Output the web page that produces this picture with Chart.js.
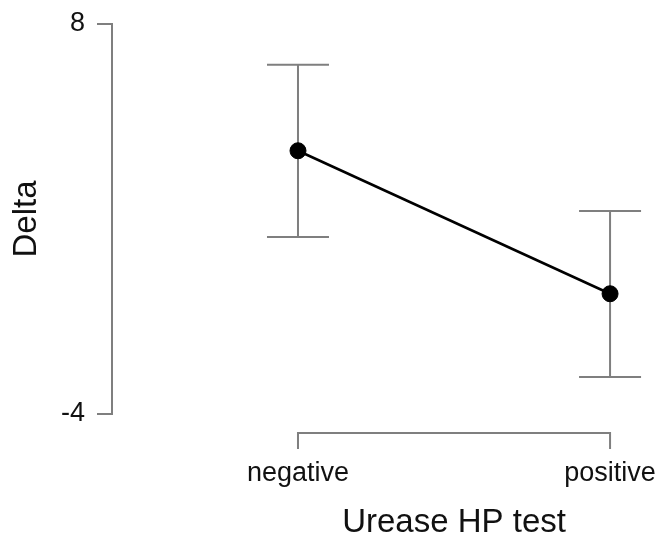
<!DOCTYPE html>
<html>
<head>
<meta charset="utf-8">
<script src="https://cdn.jsdelivr.net/npm/chart.js@4"></script>
<style>
  html, body { margin: 0; padding: 0; background: #fff; }
  #wrap { width: 659px; height: 539px; }
</style>
</head>
<body>
<div id="wrap"><canvas id="myChart"></canvas></div>
<script>
// Datos
const categories = ['negative', 'positive'];
const means = [4.10, -0.30];
const lower = [1.45, -2.86];
const upper = [6.75, 2.25];
const yTicks = [-4, 8];

const axisColor = '#7f7f7f';
const textColor = '#111';
const fontFamily = "'Liberation Sans', Arial, sans-serif";

// barras de error (gris, con remates)
const errorBars = {
    id: 'errorBars',
    beforeDatasetsDraw(chart) {
        const ctx = chart.ctx;
        const x = chart.scales.x, y = chart.scales.y;
        ctx.save();
        ctx.strokeStyle = axisColor;
        ctx.lineWidth = 2;
        for (let i = 0; i < categories.length; i++) {
            const px = x.getPixelForValue(i);
            const top = y.getPixelForValue(upper[i]);
            const bot = y.getPixelForValue(lower[i]);
            ctx.beginPath();
            ctx.moveTo(px, top); ctx.lineTo(px, bot);
            ctx.moveTo(px - 31, top); ctx.lineTo(px + 31, top);
            ctx.moveTo(px - 31, bot); ctx.lineTo(px + 31, bot);
            ctx.stroke();
        }
        ctx.restore();
    }
};

// eje x estilo "bracket" entre las categorias
const xBracket = {
    id: 'xBracket',
    afterDraw(chart) {
        const ctx = chart.ctx;
        const x = chart.scales.x;
        const x0 = x.getPixelForValue(0);
        const x1 = x.getPixelForValue(categories.length - 1);
        const yLine = chart.chartArea.bottom + 19;
        ctx.save();
        ctx.strokeStyle = axisColor;
        ctx.lineWidth = 2;
        ctx.beginPath();
        ctx.moveTo(x0, yLine + 16);
        ctx.lineTo(x0, yLine);
        ctx.lineTo(x1, yLine);
        ctx.lineTo(x1, yLine + 16);
        ctx.stroke();

        ctx.fillStyle = textColor;
        ctx.textAlign = 'center';
        ctx.textBaseline = 'alphabetic';
        ctx.font = '27px ' + fontFamily;
        categories.forEach((c, i) => {
            ctx.fillText(c, x.getPixelForValue(i), yLine + 48);
        });
        ctx.font = '33px ' + fontFamily;
        ctx.fillText('Urease HP test', (x0 + x1) / 2, yLine + 99);
        ctx.restore();
    }
};

function crearGrafico() {
    const ctx = document.getElementById('myChart').getContext('2d');
    new Chart(ctx, {
        type: 'line',
        data: {
            datasets: [{
                data: means.map((m, i) => ({ x: i, y: m })),
                borderColor: '#000',
                borderWidth: 2.5,
                pointRadius: 8,
                pointBorderWidth: 1,
                pointBackgroundColor: '#000',
                pointBorderColor: '#000',
                fill: false,
                clip: false
            }]
        },
        options: {
            responsive: true,
            maintainAspectRatio: false,
            animation: false,
            layout: { padding: { top: 24, right: 9, bottom: 125, left: 0 } },
            plugins: {
                legend: { display: false },
                tooltip: { enabled: false }
            },
            scales: {
                x: {
                    type: 'linear',
                    min: -0.596,
                    max: 1.128,
                    display: false
                },
                y: {
                    min: -4,
                    max: 8,
                    afterBuildTicks: s => { s.ticks = yTicks.map(v => ({ value: v })); },
                    afterFit: s => { s.width = 112; s.paddingTop = 0; s.paddingBottom = 0; },
                    grid: {
                        drawOnChartArea: false,
                        drawTicks: true,
                        tickLength: 15,
                        color: axisColor,
                        lineWidth: 2
                    },
                    border: { display: true, color: axisColor, width: 2 },
                    ticks: {
                        padding: 12,
                        color: textColor,
                        font: { family: fontFamily, size: 27 }
                    },
                    title: {
                        display: true,
                        text: 'Delta',
                        color: textColor,
                        padding: { top: 7, bottom: 0 },
                        font: { family: fontFamily, size: 33 }
                    }
                }
            }
        },
        plugins: [errorBars, xBracket]
    });
}

crearGrafico();
</script>
</body>
</html>
